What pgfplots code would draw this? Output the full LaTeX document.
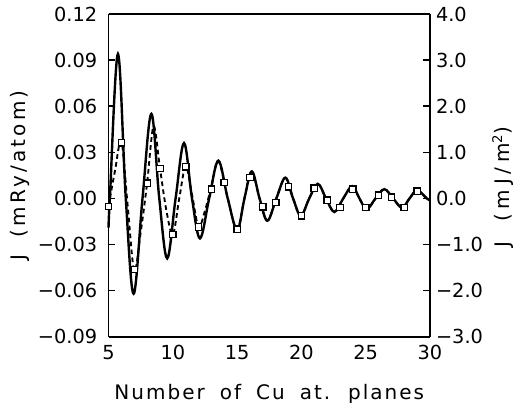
\documentclass[border=0pt]{standalone}
\usepackage{pgfplots}
\pgfplotsset{compat=1.18}
\usepackage{fontspec}
\setmainfont{DejaVu Sans}
\newfontfamily\xlblfont[LetterSpace=10,WordSpace=1.8]{DejaVu Sans}
\newfontfamily\ylblfont[LetterSpace=16,WordSpace=1.8]{DejaVu Sans}
\newfontfamily\rlblfont[LetterSpace=24,WordSpace=1.8]{DejaVu Sans}

\begin{document}
\begin{tikzpicture}
\pgfplotsset{
  common/.style={
    scale only axis, width=241pt, height=242pt,
    xmin=5, xmax=30,
    axis line style={line width=1.4pt},
    tick style={line width=1.2pt, black},
    major tick length=5pt,
    tick align=inside,
    ticklabel style={font=\fontsize{14.5}{16}\selectfont},
    ylabel style={font=\ylblfont\fontsize{15}{18}\selectfont},
    xlabel style={font=\xlblfont\fontsize{15}{18}\selectfont},
  }
}
\begin{axis}[common,
  ymin=-0.09, ymax=0.12,
  axis y line*=left, axis x line*=box,
  xtick={5,10,15,20,25,30},
  xticklabels={5,10,15,20,25,30},
  x tick style={draw=none},
  ytick={-0.09,-0.06,-0.03,0,0.03,0.06,0.09,0.12},
  yticklabels={−0.09,−0.06,−0.03,0.00,0.03,0.06,0.09,0.12},
  yticklabel style={xshift=-5pt},
  xticklabel style={yshift=-3pt},
  xlabel={Number of Cu at. planes},
  xlabel style={yshift=-11pt},
  ylabel={J (mRy/atom)},
  ylabel style={yshift=-1pt},
  clip=false,
]
\coordinate (SW) at (rel axis cs:0,0);
\coordinate (NE) at (rel axis cs:1,1);
% solid curve
\addplot[black, line width=1.8pt, smooth, tension=0.6] coordinates {
(5.00,-0.019)(5.10,0)(5.73,0.094)(6.34,0)(6.95,-0.062)(7.64,0)(8.33,0.055)
(8.945,0)(9.56,-0.039)(10.215,0)(10.87,0.036)(11.49,0)(12.11,-0.026)
(12.825,0)(13.54,0.0245)(14.27,0)(15.00,-0.0205)(15.57,0)(16.14,0.0176)
(16.745,0)(17.35,-0.0145)(18.05,0)(18.75,0.0135)(19.35,0)(19.95,-0.0112)
(20.61,0)(21.27,0.0095)(21.915,0)(22.56,-0.0088)(23.255,0)(23.95,0.008)
(24.515,0)(25.08,-0.007)(25.765,0)(26.45,0.006)(27.135,0)(27.82,-0.006)
(28.41,0)(29.00,0.0053)(29.75,0)(30.00,-0.0012)
};
% dashed curve
\addplot[black, line width=1.4pt, dash pattern=on 3.5pt off 2.5pt, smooth, tension=0.55] coordinates {
(5.0,-0.005)(5.5,0.018)(6.0,0.037)(6.5,-0.006)(7.0,-0.047)(7.5,-0.022)
(8.0,0.010)(8.5,0.047)(9.0,0.0195)(9.5,-0.008)(10.0,-0.0235)(10.5,0.000)
(11.0,0.021)(11.5,0.002)(12.0,-0.0185)(12.5,-0.008)(13.0,0.008)
(13.54,0.0245)(14.27,0)(15.00,-0.0205)(15.57,0)(16.14,0.0176)
(16.745,0)(17.35,-0.0145)(18.05,0)(18.75,0.0135)(19.35,0)(19.95,-0.0112)
(20.61,0)(21.27,0.0095)(21.915,0)(22.56,-0.0088)(23.255,0)(23.95,0.008)
(24.515,0)(25.08,-0.007)(25.765,0)(26.45,0.006)(27.135,0)(27.82,-0.006)
(28.41,0)(29.00,0.0053)(29.75,0)(30.00,-0.0012)
};
% squares
\addplot[only marks, mark=square*, mark size=2.4pt,
  mark options={fill=white, draw=black, line width=1pt}] coordinates {
(5,-0.0052)(6,0.0362)(7,-0.0463)(8,0.0098)(9,0.0195)(10,-0.0234)
(11,0.0206)(12,-0.0186)(13,0.0061)(14,0.0104)(15,-0.0200)(16,0.0137)
(17,-0.0054)(18,-0.0026)(19,0.0076)(20,-0.0113)(21,0.0067)(22,-0.0011)
(23,-0.0059)(24,0.0061)(25,-0.0059)(26,0.0022)(27,0.0007)(28,-0.0059)
(29,0.0046)
};
\end{axis}
\begin{axis}[common,
  ymin=-3, ymax=4,
  axis y line*=right, axis x line=none,
  ytick={-3,-2,-1,0,1,2,3,4},
  yticklabels={−3.0,−2.0,−1.0,0.0,1.0,2.0,3.0,4.0},
  yticklabel style={xshift=1pt},
  ylabel={J (mJ/m\raisebox{0.7ex}{\fontsize{10}{10}\selectfont 2})},
  ylabel style={font=\rlblfont\fontsize{15}{18}\selectfont, xshift=-9pt},
]
\end{axis}
\pgfresetboundingbox
\useasboundingbox ([shift={(-81.4pt,-49.5pt)}]SW) rectangle ([shift={(74.25pt,10.5pt)}]NE);
\end{tikzpicture}
\end{document}
